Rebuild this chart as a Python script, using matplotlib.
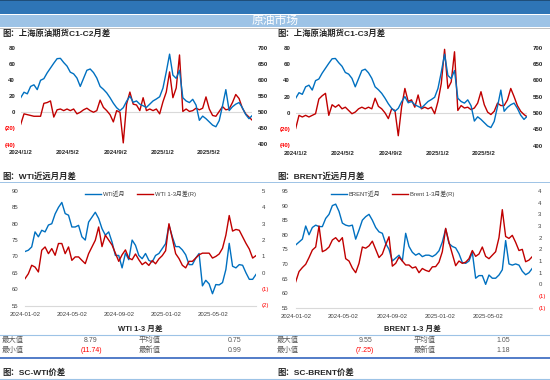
import matplotlib
matplotlib.use('Agg')
import matplotlib.pyplot as plt
import pandas as pd
import math
from matplotlib.patches import Rectangle
from matplotlib.lines import Line2D

plt.rcParams['font.family'] = ['Liberation Sans', 'Noto Sans CJK SC', 'DejaVu Sans']

# ---------------- data ----------------
start_date = '2024-01-02'
end_date = '2025-08-22'

sc_price = [545, 562, 557, 580, 585, 570, 599, 604, 622, 637,
            652, 666, 667, 654, 643, 624, 619, 606, 580, 605,
            630, 634, 623, 606, 580, 571, 560, 545, 528, 514,
            505, 514, 534, 550, 531, 535, 525, 520, 515, 525,
            535, 541, 548, 575, 625, 680, 615, 605, 630, 545,
            535, 530, 540, 522, 475, 488, 480, 470, 460, 455,
            474, 520, 570, 505, 517, 525, 530, 514, 493, 480, 490]
sc_c1c2 = [-15, -2, -3, -4, -5, -5, -5, 11, 12, 14,
           -6, 3, 4, 2, 4, 2, 4, -2, 0, 3,
           5, 2, 0, 2, 15, 6, 2, -3, -12, 2,
           0, -38, 10, 25, 10, 9, 2, 18, 2, 4,
           2, 4, -2, 13, 25, 50, 18, 30, 71, 1,
           4, 1, 2, 5, 3, 5, 19, 4, -4, -5,
           1, 7, 3, 4, 12, 22, 17, 5, -2, -6, -10]
sc_c1c3 = [-19, -3, -5, -3, -5, -3, -1, 17, 21, 24,
           -3, 10, 7, 10, 5, 7, 3, -1, 1, 5,
           7, 5, 7, 5, 18, 8, 5, 0, -7, 5,
           3, -28, 7, 30, 14, 16, 7, 22, 5, 7,
           5, 7, -1, 14, 36, 78, 30, 38, 75, 3,
           9, 6, 7, 4, 6, 12, 26, 10, 1, -2,
           2, 12, 9, 9, 16, 30, 20, 9, 2, -2, -5]
wti_price = [71.5, 71.9, 72.9, 77.5, 76, 78, 77.5, 79.6, 80, 83,
             85, 86.5, 83.1, 82.6, 79, 79, 79.5, 76, 75, 80.5,
             82, 83.5, 81.6, 78.5, 76.5, 77.5, 74.4, 70.3, 70.3, 66.5,
             71, 69, 75, 73.4, 70.3, 69.3, 70.9, 68.8, 68.3, 70.3,
             70.9, 72.4, 73.9, 79.6, 76, 73, 73, 72, 70.5, 67.5,
             67.5, 69.5, 70.9, 61, 62.7, 61.6, 58.6, 61.4, 61.3, 62,
             66, 74, 67, 66.5, 67.5, 67.3, 65, 63, 63, 64.5]
wti_spread = [-0.36, -0.06, 0.46, 0.35, 0.05, 1.38, 1.58, 1.17, 1.48, 1.07,
              1.79, 1.79, 1.17, 1.58, 0.76, 0.97, 0.97, 0.76, 0.56, 1.17,
              1.58, 1.99, 2.8, 1.6, 2.3, 2.0, 1.7, 1.2, 0.7, 1.1,
              1.4, 0.9, 0.8, 1.15, 0.8, 0.5, 0.65, 0.45, 0.75, 0.55,
              0.85, 1.05, 1.35, 3.0, 2.1, 1.17, 0.87, 0.46, 0.3, 0.7,
              0.7, 0.9, 1.1, 1.2, 1.2, 1.2, 0.9, 1.0, 1.15, 1.5,
              2.3, 3.5, 2.55, 2.65, 2.6, 2.2, 1.8, 1.45, 0.9, 1.05]
brent_price = [76.5, 77.5, 78.5, 83, 80, 82.5, 83.3, 82.8, 82.8, 85.6,
               87, 90, 90.5, 88, 84, 83.3, 83, 83.3, 78.5, 81.6,
               85, 86.2, 87, 85, 82.5, 81, 80.5, 77, 75, 71,
               72, 73, 71, 80.5, 76, 74, 73, 73.6, 72.5, 73,
               73, 72.5, 73.2, 74.5, 77.5, 82, 77, 76, 75.5, 73.5,
               70.5, 70.2, 71, 74, 65.1, 66, 66, 63, 66.2, 65.1,
               65.1, 66.2, 68, 78, 70, 69.6, 70, 69.6, 67.5, 66.3, 67, 68.5]
brent_spread = [0.11, 0.55, 0.72, 0.86, 1.15, 1.47, 1.6, 2.5, 1.4, 1.47,
                1.6, 1.9, 2.0, 1.83, 2.0, 1.1, 1.0, 0.7, 0.5, 0.9,
                1.6, 1.55, 1.65, 1.85, 1.5, 1.15, 1.3, 1.7, 2.04, 0.78,
                0.9, 1.17, 1.0, 0.83, 0.83, 0.7, 0.75, 0.5, 0.68, 0.6,
                0.55, 0.75, 0.76, 0.95, 1.4, 2.4, 1.8, 1.3, 0.8, 1.0,
                0.9, 0.95, 1.1, 1.45, 1.2, 1.3, 1.6, 1.2, 1.1, 1.25,
                1.4, 2.0, 3.2, 2.05, 1.97, 2.1, 1.8, 1.45, 1.5, 0.97, 1.04, 1.19]

tick_dates = ['2024-01-02', '2024-05-02', '2024-09-02', '2025-01-02', '2025-05-02']
top_xlabels = ['2024/1/2', '2024/5/2', '2024/9/2', '2025/1/2', '2025/5/2']
bottom_xlabels = ['2024-01-02', '2024-05-02', '2024-09-02', '2025-01-02', '2025-05-02']

wti_stats = {'max': '8.79', 'min': '(11.74)', 'avg': '0.75', 'last': '0.99'}
brent_stats = {'max': '9.55', 'min': '(7.25)', 'avg': '1.05', 'last': '1.18'}

BLUE = '#0070C0'
RED = '#C00000'
NEG = '#FF0000'

W, H = 550, 380
fig = plt.figure(figsize=(W / 100, H / 100), dpi=100)


def box(x0, y0, x1, y1):
    return [x0 / W, 1 - y1 / H, (x1 - x0) / W, (y1 - y0) / H]


def fx(x):
    return x / W


def fy(y):
    return 1 - y / H


def hline(y, x0, x1, color, lw):
    fig.add_artist(Line2D([fx(x0), fx(x1)], [fy(y), fy(y)], color=color, lw=lw,
                          transform=fig.transFigure))


def rect(x0, y0, x1, y1, color):
    fig.add_artist(Rectangle((fx(x0), fy(y1)), (x1 - x0) / W, (y1 - y0) / H,
                             facecolor=color, edgecolor='none', transform=fig.transFigure))


def xl_fmt(v):
    n = int(math.floor(abs(v) + 0.5))
    return f'({n})' if v < 0 else f'{n}'


def dates_for(vals):
    return pd.date_range(start_date, end_date, periods=len(vals))


def setup_yaxis(ax, ticks, size, color, pad, weight='normal'):
    ax.set_yticks(ticks)
    ax.set_yticklabels([xl_fmt(t) for t in ticks])
    ax.tick_params(axis='y', length=0, labelsize=size, pad=pad, labelcolor=color)
    for t, lab in zip(ticks, ax.get_yticklabels()):
        lab.set_fontweight(weight)
        if t < 0:
            lab.set_color(NEG)


# ---------------- banner ----------------
rect(0, 0, 550, 1.2, '#1F4E79')
rect(0, 1.2, 550, 13.5, '#2E75B6')
rect(0, 15, 550, 26.5, '#9DC3E6')
fig.text(fx(275), fy(21), '原油市场', color='white', fontsize=8.5, ha='center', va='center')
hline(28.2, 0, 550, '#BFBFBF', 0.7)

# ---------------- top charts ----------------
def top_chart(rect_px, spread, title, title_x):
    ax = fig.add_axes(box(*rect_px))
    d_sc = dates_for(sc_price)
    d_sp = dates_for(spread)
    ax.axhline(0, color='#D9D9D9', lw=0.8, zorder=0)
    ax.plot(d_sp, spread, color=RED, lw=1.0)
    ax.set_ylim(-40, 80)
    ax.set_xlim(pd.Timestamp(start_date), pd.Timestamp(end_date))
    setup_yaxis(ax, [-40, -20, 0, 20, 40, 60, 80], 4.4, '#262626', 4, 'bold')
    ax.set_xticks(pd.to_datetime(tick_dates))
    ax.set_xticklabels(top_xlabels)
    ax.tick_params(axis='x', length=0, labelsize=4.4, pad=4, labelcolor='#262626')
    for lab in ax.get_xticklabels():
        lab.set_fontweight('bold')
    ax2 = ax.twinx()
    ax2.plot(d_sc, sc_price, color=BLUE, lw=1.0)
    ax2.set_ylim(400, 700)
    setup_yaxis(ax2, [400, 450, 500, 550, 600, 650, 700], 4.4, '#262626', 4, 'bold')
    for a in (ax, ax2):
        for s in a.spines.values():
            s.set_visible(False)
        a.patch.set_visible(False)
    fig.text(fx(title_x), fy(34), title, fontsize=6, fontweight='bold', color='#262626',
             ha='left', va='center')


top_chart((20.7, 47.7, 252.3, 144.5), sc_c1c2, '图：上海原油期货C1-C2月差', 2)
top_chart((295.7, 47.7, 527.3, 145.5), sc_c1c3, '图：上海原油期货C1-C3月差', 277)

# ---------------- bottom charts ----------------
hline(182, 0, 550, '#9DC3E6', 0.7)


def bottom_chart(rect_px, price, spread, ylim_l, ticks_l, ylim_r, ticks_r, title,
                 title_x, leg_labels, leg_x, pad_l):
    ax = fig.add_axes(box(*rect_px))
    lp, = ax.plot(dates_for(price), price, color=BLUE, lw=1.0)
    ax.set_ylim(*ylim_l)
    ax.set_xlim(pd.Timestamp(start_date), pd.Timestamp(end_date))
    setup_yaxis(ax, ticks_l, 4.3, '#404040', pad_l)
    ax.set_xticks(pd.to_datetime(tick_dates))
    ax.set_xticklabels(bottom_xlabels)
    ax.tick_params(axis='x', length=0, labelsize=4.3, pad=4.5, labelcolor='#404040')
    ax2 = ax.twinx()
    ls, = ax2.plot(dates_for(spread), spread, color=RED, lw=1.0)
    ax2.set_ylim(*ylim_r)
    setup_yaxis(ax2, ticks_r, 4.3, '#404040', 4.3)
    for a in (ax, ax2):
        for s in a.spines.values():
            s.set_visible(False)
        a.patch.set_visible(False)
    ax.spines['bottom'].set_visible(True)
    ax.spines['bottom'].set_color('#D9D9D9')
    ax.spines['bottom'].set_linewidth(0.8)
    leg = ax2.legend([lp, ls], leg_labels, loc='center', bbox_to_anchor=(leg_x, 0.975),
                     ncol=2, frameon=False, fontsize=4.2, handlelength=2.7,
                     handletextpad=0.4, columnspacing=2.0, borderpad=0)
    for t in leg.get_texts():
        t.set_color('#404040')
    fig.text(fx(title_x), fy(176.5), title, fontsize=6, fontweight='bold', color='#262626',
             ha='left', va='center')


bottom_chart((25, 191, 256, 305.5), wti_price, wti_spread, (55, 90),
             [55, 60, 65, 70, 75, 80, 85, 90], (-2, 5), [-2, -1, 0, 1, 2, 3, 4, 5],
             '图：WTI近远月月差', 2, ['WTI近月', 'WTI 1-3月差(R)'], 0.5, 5)
bottom_chart((295.7, 191, 532.3, 307.7), brent_price, brent_spread, (55, 95),
             [55, 60, 65, 70, 75, 80, 85, 90, 95], (-1, 4),
             [-1, -0.5, 0, 0.5, 1, 1.5, 2, 2.5, 3, 3.5, 4],
             '图：BRENT近远月月差', 277, ['BRENT近月', 'Brent 1-3月差(R)'], 0.41, 5.3)

# ---------------- tables ----------------
hline(334.5, 0, 550, '#9DC3E6', 0.8)
hline(357.5, 0, 550, '#4472C4', 1.3)
hline(379.3, 0, 550, '#9DC3E6', 0.8)


def table(x_off, header, header_x, stats, val_x, avg_label_x, avg_val_x):
    fig.text(fx(header_x), fy(329.5), header, fontsize=5.5, fontweight='bold',
             color='#262626', ha='center', va='center')
    gray = '#595959'
    fig.text(fx(x_off + 2), fy(340.8), '最大值', fontsize=5.3, color=gray, va='center')
    fig.text(fx(x_off + 2), fy(350.5), '最小值', fontsize=5.3, color=gray, va='center')
    fig.text(fx(val_x), fy(340.8), stats['max'], fontsize=5, color=gray, ha='center', va='center')
    fig.text(fx(val_x), fy(350.5), stats['min'], fontsize=5, color=NEG, ha='center', va='center')
    fig.text(fx(avg_label_x), fy(340.8), '平均值', fontsize=5.3, color=gray, va='center')
    fig.text(fx(avg_label_x), fy(350.5), '最新值', fontsize=5.3, color=gray, va='center')
    fig.text(fx(avg_val_x), fy(340.8), stats['avg'], fontsize=5, color=gray, ha='center', va='center')
    fig.text(fx(avg_val_x), fy(350.5), stats['last'], fontsize=5, color=gray, ha='center', va='center')


table(0, 'WTI 1-3 月差', 140, wti_stats, 91, 139, 235)
table(275, 'BRENT 1-3 月差', 412, brent_stats, 365, 414, 503)

fig.text(fx(2), fy(372.5), '图：SC-WTI价差', fontsize=6, fontweight='bold', color='#262626',
         ha='left', va='center')
fig.text(fx(277), fy(372.5), '图：SC-BRENT价差', fontsize=6, fontweight='bold', color='#262626',
         ha='left', va='center')

fig.savefig('out.png', dpi=100)
